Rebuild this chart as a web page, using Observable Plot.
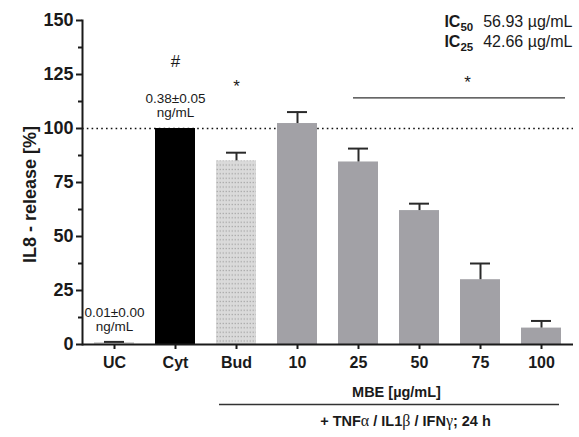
<!DOCTYPE html>
<html><head><meta charset="utf-8">
<script src="https://cdn.jsdelivr.net/npm/d3@7"></script>
<script src="https://cdn.jsdelivr.net/npm/@observablehq/plot@0.6"></script>
<style>body{margin:0;background:#fff;} svg{display:block;}</style>
</head><body><div id="chart"></div>
<script>
// ---- data ----
const categories = ["UC", "Cyt", "Bud", "10", "25", "50", "75", "100"];
const treatment = ["control", "cytokines", "budesonide", "MBE", "MBE", "MBE", "MBE", "MBE"];
const meanRelease = [0.9, 100, 85, 102.3, 84.5, 62, 30, 7.6];
const semRelease = [0.3, 0, 3.8, 5.3, 6.2, 3.2, 7.5, 3.3];
const yTicks = [0, 25, 50, 75, 100, 125, 150];
const yMinorTicks = [12.5, 37.5, 62.5, 87.5, 112.5, 137.5];
const absoluteNotes = [
  {cat: "UC", value: 0.9, label: "0.01±0.00\nng/mL"},
  {cat: "Cyt", value: 100, label: "0.38±0.05\nng/mL"}
];
const signifMarks = [
  {cat: "Cyt", value: 131, label: "#"},
  {cat: "Bud", value: 119.5, label: "*"}
];
const signifBracket = [{from: "25", to: "100", value: 114.2, label: "*", labelCat: "75", labelValue: 121.4}];
const icValues = [
  {name: "IC", sub: "50", value: "56.93 µg/mL"},
  {name: "IC", sub: "25", value: "42.66 µg/mL"}
];
const yLabel = "IL8 - release [%]";
const groupSpans = [
  {from: "Bud", to: "100", centerCat: "50", label: "+ TNFα / IL1β / IFNγ; 24 h"}
];
const concentrationLabel = [{cat: "50", label: "MBE [µg/mL]"}];

const data = categories.map((c, i) => ({cat: c, group: treatment[i], mean: meanRelease[i], sem: semRelease[i]}));
const font = "Liberation Sans, Arial, Helvetica, sans-serif";
const ink = "#1a1a1a";

const chart = Plot.plot({
  width: 579,
  height: 437,
  marginLeft: 82,
  marginRight: 6,
  marginTop: 20,
  marginBottom: 93,
  style: {fontFamily: font, background: "#fff", color: ink},
  x: {domain: categories, paddingInner: 0.35, paddingOuter: 0.175},
  y: {domain: [0, 150]},
  color: {type: "ordinal", domain: ["control", "cytokines", "budesonide", "MBE"],
          range: ["#d2d2d2", "#000000", "url(#dots)", "#a2a1a6"]},
  marks: [
    Plot.ruleY([100], {stroke: "#111", strokeWidth: 1.6, strokeDasharray: "1.6,3.2"}),
    Plot.barY(data, {x: "cat", y: "mean", fill: "group"}),
    Plot.ruleX(data.filter(d => d.sem > 0), {x: "cat", y1: "mean", y2: d => d.mean + d.sem, stroke: "#2a2a2a", strokeWidth: 2}),
    Plot.tickY(data.filter(d => d.sem > 0), {x: "cat", y: d => d.mean + d.sem, stroke: "#2a2a2a", strokeWidth: 2, insetLeft: 10, insetRight: 10}),
    Plot.frame({anchor: "left", stroke: ink, strokeWidth: 2}),
    Plot.ruleY([0], {stroke: ink, strokeWidth: 2}),
    Plot.axisY(yTicks, {tickSize: 6, tickPadding: 3, fontSize: 18, fontWeight: "bold", strokeWidth: 2, stroke: ink, fill: ink}),
    Plot.axisY(yMinorTicks, {tickSize: 4, tickFormat: () => "", strokeWidth: 2, stroke: ink}),
    Plot.axisX({tickSize: 5, tickPadding: 7, fontSize: 16, fontWeight: "bold", strokeWidth: 2, stroke: ink, fill: ink, label: null}),
    Plot.text([yLabel], {frameAnchor: "left", textAnchor: "middle", rotate: -90, dx: -52, dy: 12, fontSize: 18, fontWeight: "bold", fill: ink}),
    Plot.text(absoluteNotes, {x: "cat", y: "value", text: "label", lineAnchor: "bottom", dy: -12, fontSize: 13.5, lineHeight: 1.0, fill: ink}),
    Plot.text(signifMarks, {x: "cat", y: "value", text: "label", fontSize: 17, fill: ink}),
    Plot.ruleY(signifBracket, {x1: "from", x2: "to", y: "value", stroke: "#333", strokeWidth: 1.4, insetLeft: 15, insetRight: -4}),
    Plot.text(signifBracket, {x: "labelCat", y: "labelValue", text: "label", dx: -13, fontSize: 17, fill: ink}),
    Plot.text(icValues.slice(0, 1), {text: d => `IC${d.sub}  ${d.value}`, frameAnchor: "top-right", dx: -1, dy: 1.5, lineAnchor: "middle", fontSize: 16, fill: ink}),
    Plot.text(icValues.slice(1, 2), {text: d => `IC${d.sub}  ${d.value}`, frameAnchor: "top-right", dx: -1, dy: 21.5, lineAnchor: "middle", fontSize: 16, fill: ink}),
    Plot.text(concentrationLabel, {x: "cat", text: "label", frameAnchor: "bottom", dx: -23, dy: 48, lineAnchor: "middle", fontSize: 14.5, fontWeight: "bold", fill: ink}),
    Plot.ruleY(groupSpans, {x1: "from", x2: "to", y: 0, dy: 60, stroke: "#333", strokeWidth: 1.4, insetLeft: 3, insetRight: 2}),
    Plot.text(groupSpans, {x: "centerCat", text: "label", frameAnchor: "bottom", dx: -14, dy: 77, lineAnchor: "middle", fontSize: 14.5, fontWeight: "bold", fill: ink})
  ]
});

// pattern for the budesonide bar
const ns = "http://www.w3.org/2000/svg";
const defs = document.createElementNS(ns, "defs");
defs.innerHTML = `<pattern id="dots" patternUnits="userSpaceOnUse" width="3" height="4.4">
  <rect width="3" height="4.4" fill="#dadada"/><rect x="0.6" y="1.6" width="1.3" height="1.2" fill="#a4a4a4"/></pattern>`;
chart.insertBefore(defs, chart.firstChild);

// rich text: subscripts and Greek letters
chart.querySelectorAll("text").forEach(t => {
  if (t.children.length) return;
  const s = t.textContent;
  const m = s.match(/^IC(\d+)\s+(.+)$/);
  if (m) {
    t.textContent = "";
    const a = document.createElementNS(ns, "tspan"); a.textContent = "IC"; a.setAttribute("font-weight", "bold"); t.appendChild(a);
    const b = document.createElementNS(ns, "tspan"); b.textContent = m[1]; b.setAttribute("font-weight", "bold"); b.setAttribute("font-size", "11.5"); b.setAttribute("dy", "4"); t.appendChild(b);
    const c = document.createElementNS(ns, "tspan"); c.textContent = m[2]; c.setAttribute("dx", "10"); c.setAttribute("dy", "-4"); t.appendChild(c);
    return;
  }
  if (/[αβγ]/.test(s)) {
    t.textContent = "";
    s.split(/([αβγ])/).forEach(part => {
      if (!part) return;
      const sp = document.createElementNS(ns, "tspan");
      sp.textContent = part;
      if (/[αβγ]/.test(part)) { sp.setAttribute("font-family", "Liberation Serif, DejaVu Serif, serif"); sp.setAttribute("font-weight", "normal"); sp.setAttribute("font-size", "16"); }
      t.appendChild(sp);
    });
  }
});
document.getElementById("chart").appendChild(chart);
</script>
</body></html>
